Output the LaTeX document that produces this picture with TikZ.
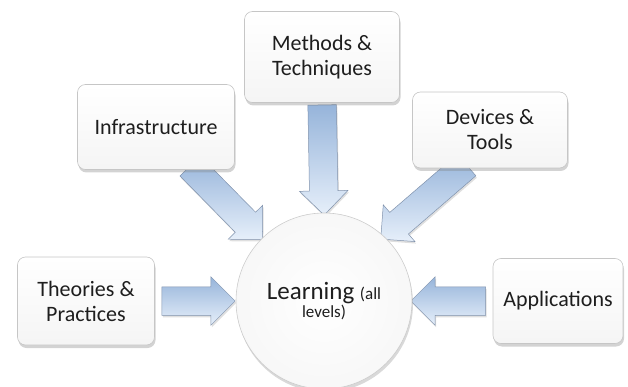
\documentclass[tikz,border=0pt]{standalone}
\usepackage{fontspec}
\setmainfont{Carlito}
\usetikzlibrary{shapes.arrows,shadows,calc}
\pgfdeclarelayer{bg}
\pgfsetlayers{bg,main}
\definecolor{arrowdark}{RGB}{150,180,218}
\definecolor{arrowlight}{RGB}{230,239,250}
\definecolor{arrowline}{RGB}{128,146,172}
\definecolor{txt}{RGB}{30,30,30}
\begin{document}
\begin{tikzpicture}[x=1pt,y=-1pt,
 box/.style={rectangle,rounded corners=8pt,draw=gray!45,line width=.6pt,top color=white,bottom color=gray!8,
 drop shadow={shadow xshift=1pt,shadow yshift=-3pt,opacity=.35},align=center,text=txt,
 font=\fontsize{22}{25}\selectfont,inner sep=0pt},
 fat/.style={single arrow,single arrow head extend=10pt,inner xsep=0pt,inner ysep=14pt,draw=arrowline,
 line width=.5pt,top color=arrowdark,bottom color=arrowlight,drop shadow={shadow xshift=1pt,shadow yshift=-2pt,opacity=.25}}]
\useasboundingbox (0,0) rectangle (628,387);
\node[box,minimum width=137pt,minimum height=88pt] (theo) at (86,301) {Theories \&\\Practices};
\node[box,minimum width=157pt,minimum height=85pt] (infra) at (156,127) {Infrastructure};
\node[box,minimum width=155pt,minimum height=91pt] (meth) at (322,57) {Methods \&\\Techniques};
\node[box,minimum width=155pt,minimum height=76pt] (dev) at (490,130) {Devices \&\\Tools};
\node[box,minimum width=130pt,minimum height=85pt] (appl) at (558,301) {Applications};
\node[circle,minimum size=176pt,inner sep=0pt,draw=gray!40,line width=.6pt,inner color=white,outer color=gray!6,
 drop shadow={shadow xshift=1pt,shadow yshift=-3pt,opacity=.3},align=center,text=txt] (learn) at (324,301)
 {\fontsize{25}{25}\selectfont Learning {\fontsize{17}{17}\selectfont (all}\\\fontsize{17}{24}\selectfont levels)};
% ends of the block arrows
\coordinate (t1) at (theo.east);
\coordinate (i1) at ([xshift=29pt,yshift=9pt]infra.south);
\coordinate (m1) at ([yshift=5pt]meth.south);
\coordinate (d1) at ([xshift=-18pt,yshift=8pt]dev.south);
\coordinate (a1) at (appl.west);
\coordinate (t2) at ($(learn.center)+(180:96pt)$);
\coordinate (i2) at ($(learn.center)+(135:94pt)$);
\coordinate (m2) at ($(learn.center)+(90:93pt)$);
\coordinate (d2) at ($(learn.center)+(47:91pt)$);
\coordinate (a2) at ($(learn.center)+(0:94pt)$);
\begin{pgfonlayer}{bg}
\foreach \a/\b in {t1/t2,i1/i2,m1/m2,d1/d2,a1/a2}
 \path let \p1=(\a), \p2=(\b), \n1={atan2(\y2-\y1,\x2-\x1)}, \n2={veclen(\x2-\x1,\y2-\y1)} in
 node[fat,minimum height=\n2,rotate=\n1] at ($(\a)!.5!(\b)$) {};
\end{pgfonlayer}
\end{tikzpicture}
\end{document}
